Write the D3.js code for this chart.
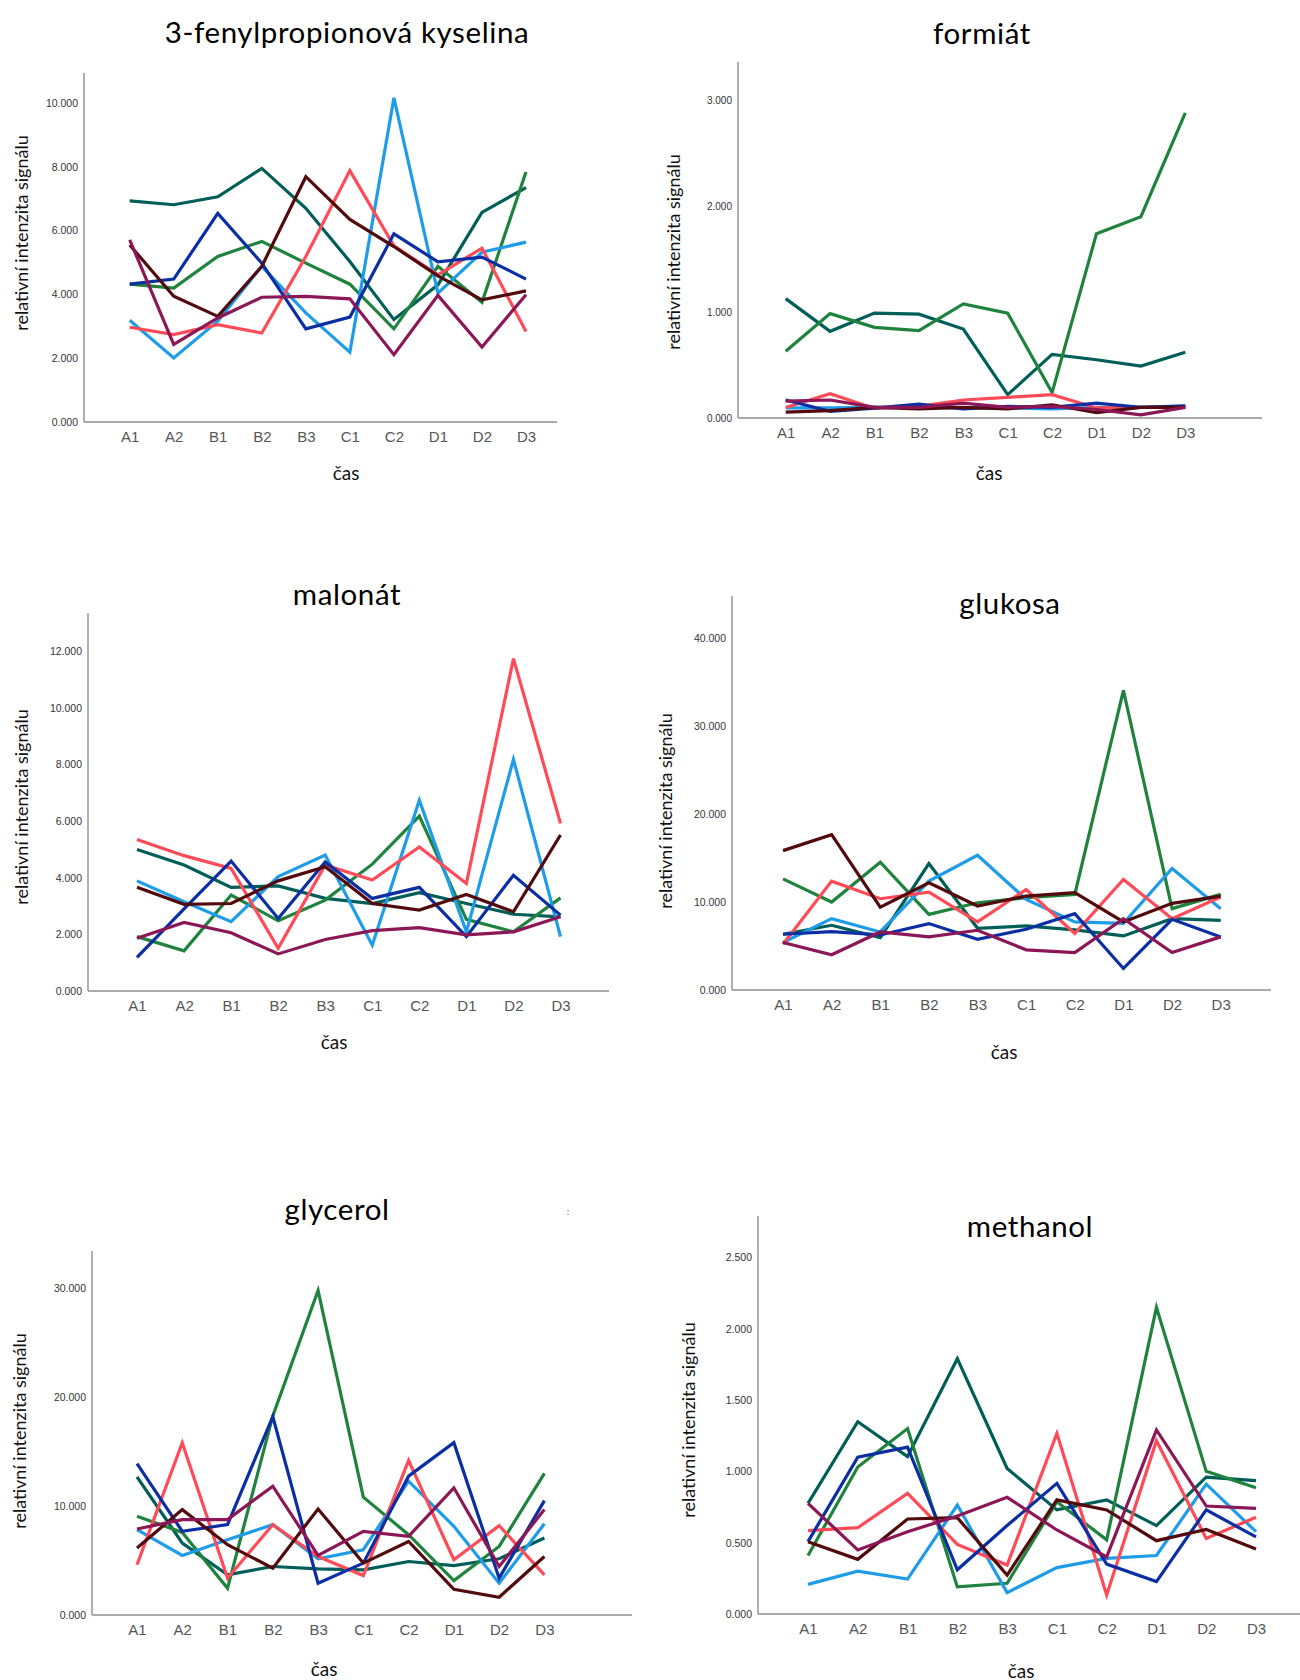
<!DOCTYPE html>
<html><head><meta charset="utf-8">
<script src="https://cdn.jsdelivr.net/npm/d3@7/dist/d3.min.js"></script>
<style>body{margin:0;background:#fff}svg{display:block}</style>
</head><body>
<script>
// ---- data ----
const categories = ["A1","A2","B1","B2","B3","C1","C2","D1","D2","D3"];
const seriesColors = ["#005e58","#1f833d","#1e9ce8","#ff4b58","#0b2fa2","#520a0c","#8c1756"];
// order: teal, green, lightblue, red, navy, maroon, purple
const fenylpropionova = [
  [6.93,6.81,7.06,7.95,6.70,5.03,3.21,4.30,6.57,7.35],
  [4.32,4.20,5.19,5.66,4.98,4.32,2.92,4.88,3.75,7.84],
  [3.19,2.01,3.16,4.88,3.42,2.19,10.16,4.04,5.32,5.64],
  [2.97,2.74,3.05,2.79,5.19,7.88,5.52,4.61,5.45,2.84],
  [4.32,4.48,6.54,4.98,2.92,3.29,5.90,5.02,5.17,4.48],
  [5.55,3.94,3.31,4.88,7.69,6.35,5.50,4.58,3.83,4.11],
  [5.71,2.43,3.26,3.91,3.94,3.86,2.11,3.97,2.35,3.99]
];
const formiat = [
  [1.127,0.818,0.99,0.98,0.84,0.22,0.60,0.55,0.49,0.62],
  [0.63,0.985,0.856,0.825,1.076,0.99,0.24,1.74,1.90,2.88],
  [0.095,0.095,0.10,0.10,0.095,0.095,0.085,0.10,0.10,0.11],
  [0.10,0.23,0.09,0.11,0.17,0.195,0.22,0.095,0.10,0.10],
  [0.17,0.063,0.094,0.13,0.085,0.11,0.10,0.14,0.10,0.115],
  [0.055,0.07,0.10,0.085,0.10,0.085,0.125,0.05,0.10,0.10],
  [0.16,0.17,0.10,0.10,0.14,0.10,0.11,0.08,0.03,0.10]
];
const malonat = [
  [5.00,4.45,3.66,3.71,3.27,3.09,3.47,3.09,2.71,2.62],
  [1.92,1.42,3.39,2.48,3.21,4.48,6.18,2.53,2.09,3.29],
  [3.89,3.15,2.45,4.04,4.80,1.62,6.74,2.09,8.18,1.92],
  [5.35,4.78,4.33,1.51,4.45,3.92,5.09,3.80,11.74,5.92],
  [1.19,2.90,4.59,2.56,4.56,3.27,3.66,1.92,4.09,2.68],
  [3.66,3.06,3.09,3.89,4.39,3.09,2.86,3.41,2.80,5.51],
  [1.86,2.42,2.06,1.31,1.82,2.13,2.24,1.98,2.09,2.62]
];
const glukosa = [
  [6.34,7.36,5.96,14.38,7.02,7.28,6.83,6.15,8.11,7.92],
  [12.64,10.00,14.53,8.60,9.92,10.49,10.87,34.08,9.25,10.87],
  [5.40,8.11,6.60,12.38,15.32,10.30,7.74,7.58,13.81,9.25],
  [5.21,12.38,10.38,11.13,7.74,11.43,6.42,12.57,8.11,10.57],
  [6.34,6.64,6.26,7.55,5.77,6.91,8.68,2.45,8.04,6.04],
  [15.85,17.66,9.43,12.19,9.55,10.68,11.06,7.74,9.85,10.68],
  [5.40,4.00,6.60,6.04,6.79,4.57,4.26,8.11,4.26,6.04]
];
const glycerol = [
  [12.68,6.60,3.68,4.45,4.24,4.14,4.91,4.54,5.16,7.06],
  [9.06,7.58,2.46,18.27,29.78,10.81,7.37,3.16,6.29,12.99],
  [7.83,5.47,6.91,8.29,5.16,5.99,12.28,8.14,2.92,8.38],
  [4.61,15.81,3.38,8.29,5.37,3.62,14.18,5.07,8.20,3.68],
  [13.88,7.68,8.29,18.21,2.92,4.76,12.74,15.81,3.38,10.50],
  [6.14,9.67,6.45,4.30,9.73,4.76,6.75,2.36,1.63,5.37],
  [7.89,8.75,8.75,11.82,5.47,7.68,7.22,11.67,4.45,9.67]
];
const methanol = [
  [0.776,1.348,1.103,1.79,1.02,0.73,0.80,0.62,0.96,0.935],
  [0.41,1.03,1.30,0.19,0.215,0.787,0.52,2.15,1.00,0.885],
  [0.208,0.30,0.245,0.764,0.15,0.325,0.39,0.41,0.91,0.577],
  [0.584,0.605,0.846,0.488,0.343,1.266,0.133,1.215,0.53,0.678],
  [0.507,1.10,1.17,0.31,0.62,0.916,0.35,0.227,0.73,0.54],
  [0.507,0.383,0.666,0.675,0.273,0.80,0.729,0.514,0.593,0.456],
  [0.776,0.449,0.577,0.687,0.818,0.589,0.40,1.29,0.757,0.74]
];
const titles = ["3-fenylpropionová kyselina","formiát","malonát","glukosa","glycerol","methanol"];
const yTicks = [[0,2,4,6,8,10],[0,1,2,3],[0,2,4,6,8,10,12],[0,10,20,30,40],[0,10,20,30],[0,0.5,1,1.5,2,2.5]];
const yLabel = "relativní intenzita signálu";
const xLabel = "čas";

// ---- layout ----
const panels = [
  {data:fenylpropionova, ax:84, top:73, bottom:422, right:557, x0:129.7, x1:526, yMax:10.94, tx:347, ty:31, ylx:21, yly:233, xlx:346, xly:472, tfs:10.5},
  {data:formiat, ax:738, top:62, bottom:418, right:1262, x0:785.7, x1:1185.3, yMax:3.36, tx:982, ty:32, ylx:673, yly:252, xlx:989, xly:472, tfs:10},
  {data:malonat, ax:88, top:613, bottom:991, right:609, x0:137, x1:560.5, yMax:13.35, tx:347, ty:593, ylx:21, yly:807, xlx:334, xly:1041, tfs:10.5},
  {data:glukosa, ax:732, top:596, bottom:990, right:1271, x0:783, x1:1220.7, yMax:44.8, tx:1010, ty:602, ylx:665, yly:811, xlx:1004, xly:1051, tfs:10.5},
  {data:glycerol, ax:92, top:1251, bottom:1615, right:632, x0:137, x1:544.4, yMax:33.4, tx:337, ty:1208, ylx:19, yly:1431, xlx:324, xly:1668, tfs:10.5},
  {data:methanol, ax:758, top:1216, bottom:1614, right:1300, x0:808, x1:1256, yMax:2.79, tx:1030, ty:1225, ylx:688, yly:1420, xlx:1021, xly:1670, tfs:10.5}
];

const svg = d3.select("body").append("svg").attr("width",1300).attr("height",1680);
const fmt = d3.format(".3f");

panels.forEach((p,i)=>{
  const g = svg.append("g");
  const x = d3.scalePoint().domain(categories).range([p.x0,p.x1]);
  const y = d3.scaleLinear().domain([0,p.yMax]).range([p.bottom,p.top]);

  // title
  g.append("text").attr("x",p.tx).attr("y",p.ty).attr("text-anchor","middle")
    .attr("dominant-baseline","central").attr("font-family","Lato, 'Open Sans', sans-serif")
    .attr("font-size",29.5).attr("letter-spacing",0.6).attr("fill","#000").text(titles[i]);

  // y axis
  const yAxis = d3.axisLeft(y).tickValues(yTicks[i]).tickFormat(fmt).tickSize(0).tickPadding(6);
  const ya = g.append("g").attr("transform",`translate(${p.ax},0)`).call(yAxis);
  ya.select(".domain").attr("stroke","#8f8f8f").attr("stroke-width",1.4).attr("d",`M0,${p.top}V${p.bottom}`);
  ya.selectAll("text").attr("font-family","'Liberation Sans', Arial, sans-serif").attr("font-size",p.tfs).attr("fill","#333");

  // x axis
  const xAxis = d3.axisBottom(x).tickSize(0).tickPadding(9);
  const xa = g.append("g").attr("transform",`translate(0,${p.bottom})`).call(xAxis);
  xa.select(".domain").attr("stroke","#8f8f8f").attr("stroke-width",1.4).attr("d",`M${p.ax},0H${p.right}`);
  xa.selectAll("text").attr("font-family","'Liberation Sans', Arial, sans-serif").attr("font-size",15).attr("fill","#555");

  // axis titles
  g.append("text").attr("transform",`translate(${p.ylx},${p.yly}) rotate(-90)`)
    .attr("text-anchor","middle").attr("dominant-baseline","central")
    .attr("font-family","Lato, 'Open Sans', sans-serif").attr("font-size",18).attr("fill","#111").text(yLabel);
  g.append("text").attr("x",p.xlx).attr("y",p.xly).attr("text-anchor","middle").attr("dominant-baseline","central")
    .attr("font-family","Lato, 'Open Sans', sans-serif").attr("font-size",19).attr("fill","#111").text(xLabel);

  // lines
  const line = d3.line().x((d,j)=>x(categories[j])).y(d=>y(d));
  g.append("g").selectAll("path").data(p.data).join("path")
    .attr("d",line).attr("fill","none").attr("stroke",(d,k)=>seriesColors[k])
    .attr("stroke-width",3.2).attr("stroke-linejoin","miter");
});

// stray mark near glycerol title
svg.append("text").attr("x",568).attr("y",1211).attr("text-anchor","middle").attr("dominant-baseline","central")
  .attr("font-family","Lato, sans-serif").attr("font-size",10).attr("fill","#777").text(":");
</script>
</body></html>
